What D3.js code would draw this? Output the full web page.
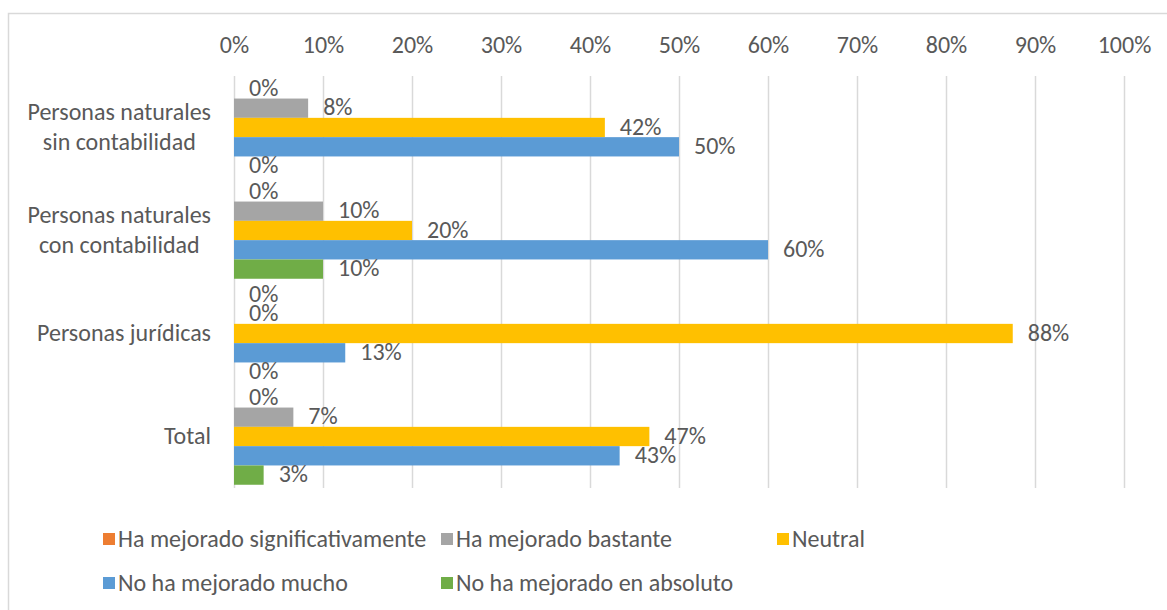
<!DOCTYPE html>
<html>
<head>
<meta charset="utf-8">
<script src="https://cdn.jsdelivr.net/npm/d3@7"></script>
<style>
  body { margin: 0; background: #fff; }
  svg text { font-family: Carlito, Lato, "Open Sans", sans-serif; fill: #595959; }
</style>
</head>
<body>
<script>
// categorias y series
var categories = ["Personas naturales\nsin contabilidad", "Personas naturales\ncon contabilidad", "Personas jurídicas", "Total"];
var series = ["Ha mejorado significativamente", "Ha mejorado bastante", "Neutral", "No ha mejorado mucho", "No ha mejorado en absoluto"];
var colors = ["#ED7D31", "#A5A5A5", "#FFC000", "#5B9BD5", "#70AD47"];
// valores en % por serie (orden de las categorias)
var significativamente = [0, 0, 0, 0];
var bastante = [8.33, 10, 0, 6.67];
var neutral = [41.67, 20, 87.5, 46.67];
var noMucho = [50, 60, 12.5, 43.33];
var enAbsoluto = [0, 10, 0, 3.33];
var values = [significativamente, bastante, neutral, noMucho, enAbsoluto];
var xTicks = [0, 10, 20, 30, 40, 50, 60, 70, 80, 90, 100];

var width = 1167, height = 610, fs = "24px";
var svg = d3.select("body").append("svg").attr("width", width).attr("height", height);

// marco
svg.append("rect").attr("x", 8.5).attr("y", 13.5).attr("width", 1200).attr("height", 700)
    .attr("fill", "none").attr("stroke", "#D9D9D9").attr("stroke-width", 1.5);

var yTop = 76, yBottom = 488;
var x = d3.scaleLinear().domain([0, 100]).range([234, 1124]);
var y0 = d3.scaleBand().domain(categories).range([yTop, yBottom]).paddingInner(0.063).paddingOuter(0.0315);
var y1 = d3.scaleBand().domain(series).range([0, y0.bandwidth()]);

// eje superior + lineas de cuadricula
var axis = svg.append("g").attr("transform", "translate(0," + yTop + ")")
    .call(d3.axisTop(x).tickValues(xTicks).tickFormat(function(d) { return d + "%"; })
        .tickSizeInner(-(yBottom - yTop)).tickSizeOuter(0).tickPadding(23));
axis.select(".domain").remove();
axis.selectAll("line").attr("stroke", "#D9D9D9").attr("stroke-width", 1.5);
axis.selectAll("text").style("font-size", fs).style("font-family", null).attr("fill", "#595959");

// barras
var groups = svg.selectAll("g.cat").data(categories).enter().append("g")
    .attr("class", "cat")
    .attr("transform", function(d) { return "translate(0," + y0(d) + ")"; });

var cells = groups.selectAll("g.bar")
    .data(function(d, ci) { return series.map(function(s, si) { return { s: s, si: si, v: values[si][ci] }; }); })
    .enter().append("g").attr("class", "bar");

cells.append("rect")
    .attr("x", x(0))
    .attr("y", function(d) { return y1(d.s); })
    .attr("height", y1.bandwidth())
    .attr("width", function(d) { return x(d.v) - x(0); })
    .attr("fill", function(d) { return colors[d.si]; });

cells.append("text")
    .attr("x", function(d) { return x(d.v) + 15; })
    .attr("y", function(d) { return y1(d.s) + y1.bandwidth() / 2; })
    .attr("dy", "0.3em")
    .style("font-size", fs)
    .text(function(d) { return Math.round(d.v) + "%"; });

// etiquetas de categoria
categories.forEach(function(c) {
    var lines = c.split("\n");
    var g = svg.append("g");
    var t = g.append("text").attr("text-anchor", "middle").style("font-size", fs);
    lines.forEach(function(l, i) {
        t.append("tspan").attr("x", 0).attr("dy", i === 0 ? 0 : 30).text(l);
    });
    var b = t.node().getBBox();
    var cy = y0(c) + y0.bandwidth() / 2;
    g.attr("transform", "translate(" + (211 - (b.x + b.width)) + "," + (cy - (lines.length - 1) * 15 + 7) + ")");
});

// leyenda
var legendPos = [[103, 539], [441, 539], [777, 539], [103, 583], [441, 583]];
var legend = svg.selectAll("g.leg").data(series).enter().append("g")
    .attr("class", "leg")
    .attr("transform", function(d, i) { return "translate(" + legendPos[i][0] + "," + legendPos[i][1] + ")"; });
legend.append("rect").attr("x", 0).attr("y", -6).attr("width", 12).attr("height", 12)
    .attr("fill", function(d, i) { return colors[i]; });
legend.append("text").attr("x", 15).attr("dy", "0.35em").style("font-size", fs).text(function(d) { return d; });
</script>
</body>
</html>
